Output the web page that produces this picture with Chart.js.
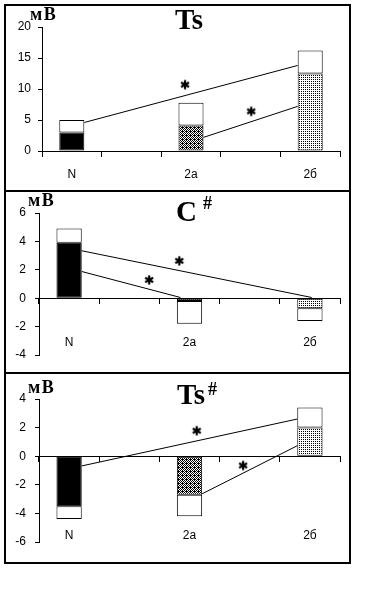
<!DOCTYPE html>
<html>
<head>
<meta charset="utf-8">
<script src="https://cdn.jsdelivr.net/npm/chart.js@4.4.1/dist/chart.umd.min.js"></script>
<style>
  body { margin: 0; background: #fff; width: 370px; height: 600px; position: relative; overflow: hidden; }
  canvas { position: absolute; left: 5px; }
  .frame { position: absolute; border: 2px solid #000; box-sizing: border-box; pointer-events: none; }
  .sep { position: absolute; left: 4px; width: 347px; height: 2px; background: #000; }
  .title { position: absolute; font: bold 29px/29px "Liberation Serif", serif; white-space: nowrap; color: #000; }
  .title span { font-size: 18px; position: relative; }
  .unit { position: absolute; font: bold 18px/18px "Liberation Serif", serif; color: #000; letter-spacing: 1.5px; }
</style>
</head>
<body>
<canvas id="chartTs" width="345" height="186" style="top:5px"></canvas>
<canvas id="chartC" width="345" height="182" style="top:191px"></canvas>
<canvas id="chartTsH" width="345" height="190" style="top:373px"></canvas>

<div class="frame" style="left:4px;top:4px;width:347px;height:560px"></div>
<div class="sep" style="top:190px"></div>
<div class="sep" style="top:372px"></div>

<div class="title" style="left:175px;top:5px">Ts</div>
<div class="title" style="left:176px;top:197px">C<span style="top:-12px;margin-left:6px">#</span></div>
<div class="title" style="left:177px;top:380px">Ts<span style="top:-9px;margin-left:3px">#</span></div>

<div class="unit" style="left:30px;top:5px">мВ</div>
<div class="unit" style="left:28px;top:191px">мВ</div>
<div class="unit" style="left:28px;top:378px">мВ</div>

<script>
// categories: N, gap, 2a, gap, 2б
const categories = ["N", "", "2a", "", "2б"];

// Ts: inner (filled) part and full height of each bar
const tsInner = [3.0, null, 4.1, null, 12.5];
const tsOuter = [5.0, null, 7.8, null, 16.2];
const tsTicks = { min: 0, max: 20, step: 5 };
const tsLineUpper = [[0.21, 4.6], [3.79, 13.8]];
const tsLineLower = [[2.21, 2.2], [3.79, 7.2]];
const tsStars = [[1.90, 10.7], [3.01, 6.4]];

// C#
const cInner = [3.9, null, -0.2, null, -0.7];
const cOuter = [4.9, null, -1.8, null, -1.6];
const cTicks = { min: -4, max: 6, step: 2 };
const cLineUpper = [[0.21, 3.34], [4.03, 0.05]];
const cLineLower = [[0.21, 1.88], [1.85, 0.05]];
const cStars = [[1.83, 2.63], [1.33, 1.29]];

// Ts#
const tsHInner = [-3.5, null, -2.7, null, 2.0];
const tsHOuter = [-4.4, null, -4.2, null, 3.4];
const tsHTicks = { min: -6, max: 4, step: 2 };
const tsHLineUpper = [[0.21, -0.68], [3.79, 2.6]];
const tsHLineLower = [[2.21, -2.63], [3.79, 0.73]];
const tsHStars = [[2.12, 1.78], [2.89, -0.65]];

Chart.defaults.font.family = "'Liberation Sans', Arial, sans-serif";
Chart.defaults.font.size = 12;
Chart.defaults.color = "#000";

function makePattern(size, dots) {
    const c = document.createElement("canvas");
    c.width = size;
    c.height = size;
    const g = c.getContext("2d");
    g.fillStyle = "#fff";
    g.fillRect(0, 0, size, size);
    g.fillStyle = "#000";
    dots.forEach(([x, y]) => g.fillRect(x, y, 1, 1));
    return g.createPattern(c, "repeat");
}

// bold six-armed asterisk used as point style for the significance marks
function makeAsterisk() {
    const c = document.createElement("canvas");
    c.width = 12;
    c.height = 12;
    const g = c.getContext("2d");
    g.strokeStyle = "#000";
    g.lineWidth = 2.2;
    g.lineCap = "butt";
    [90, 30, 150].forEach(deg => {
        const a = deg * Math.PI / 180;
        const dx = Math.cos(a) * 4.6, dy = Math.sin(a) * 4.6;
        g.beginPath();
        g.moveTo(6 - dx, 6 - dy);
        g.lineTo(6 + dx, 6 + dy);
        g.stroke();
    });
    g.fillStyle = "#000";
    g.beginPath();
    g.arc(6, 6, 2, 0, Math.PI * 2);
    g.fill();
    return c;
}

const checker = makePattern(4, [[0,0],[2,0],[1,1],[3,1],[0,2],[2,2],[1,3],[3,3],[1,2]]);
const dotted = makePattern(2, [[0,0]]);
const fills = ["#000", null, checker, null, dotted];
const asterisk = makeAsterisk();

function toPoints(pairs) {
    return pairs.map(([x, y]) => ({ x: x, y: y }));
}

function renderPanel(id, inner, outer, ticks, lineUpper, lineLower, stars, look) {
    const ctx = document.getElementById(id).getContext("2d");
    const barCommon = {
        type: "bar",
        xAxisID: "x",
        yAxisID: "y",
        borderColor: "#000",
        borderWidth: 1,
        borderSkipped: false,
        grouped: false,
        categoryPercentage: 0.42,
        barPercentage: 1,
        order: 2
    };
    const lineCommon = {
        type: "line",
        xAxisID: "xl",
        yAxisID: "y",
        borderColor: "#000",
        borderWidth: 1,
        pointRadius: 0,
        fill: false,
        order: 0
    };
    new Chart(ctx, {
        type: "bar",
        data: {
            labels: categories,
            datasets: [
                Object.assign({}, barCommon, {
                    data: inner.map(v => v === null ? null : [0, v]),
                    backgroundColor: fills
                }),
                Object.assign({}, barCommon, {
                    data: outer.map((v, i) => v === null ? null : [inner[i], v]),
                    backgroundColor: "#fff"
                }),
                Object.assign({}, lineCommon, { data: toPoints(lineUpper) }),
                Object.assign({}, lineCommon, { data: toPoints(lineLower) }),
                Object.assign({}, lineCommon, {
                    data: toPoints(stars),
                    showLine: false,
                    pointStyle: asterisk,
                    pointRadius: 6
                })
            ]
        },
        options: {
            responsive: false,
            animation: false,
            devicePixelRatio: 1,
            layout: { padding: { left: 0, right: 10, top: look.top, bottom: look.bottom } },
            plugins: { legend: { display: false }, tooltip: { enabled: false } },
            scales: {
                x: {
                    type: "category",
                    axis: "x",
                    position: { y: ticks.min },
                    offset: true,
                    grid: { display: false, drawTicks: false },
                    border: { display: false },
                    ticks: { padding: look.labelPad, autoSkip: false, maxRotation: 0 }
                },
                x0: {
                    type: "category",
                    axis: "x",
                    position: { y: 0 },
                    offset: true,
                    grid: { offset: true, drawOnChartArea: false, drawTicks: true, tickLength: 5, color: "#000" },
                    border: { display: true, color: "#000", width: 1 },
                    ticks: { display: false }
                },
                xl: {
                    type: "linear",
                    axis: "x",
                    min: -0.5,
                    max: 4.5,
                    offset: false,
                    grid: { offset: false },
                    display: false
                },
                y: {
                    position: "left",
                    min: ticks.min,
                    max: ticks.max,
                    afterFit: (scale) => { scale.width = look.yWidth; },
                    grid: { drawOnChartArea: false, drawTicks: true, tickLength: 4, color: "#000" },
                    border: { display: true, color: "#000", width: 1 },
                    ticks: { stepSize: ticks.step, padding: look.tickPad }
                }
            }
        }
    });
}

renderPanel("chartTs", tsInner, tsOuter, tsTicks, tsLineUpper, tsLineLower, tsStars,
    { top: 22, bottom: 40, yWidth: 37, tickPad: 7, labelPad: 16 });
renderPanel("chartC", cInner, cOuter, cTicks, cLineUpper, cLineLower, cStars,
    { top: 22, bottom: 18, yWidth: 34, tickPad: 9, labelPad: -20 });
renderPanel("chartTsH", tsHInner, tsHOuter, tsHTicks, tsHLineUpper, tsHLineLower, tsHStars,
    { top: 26, bottom: 21, yWidth: 34, tickPad: 9, labelPad: -14 });
</script>
</body>
</html>
